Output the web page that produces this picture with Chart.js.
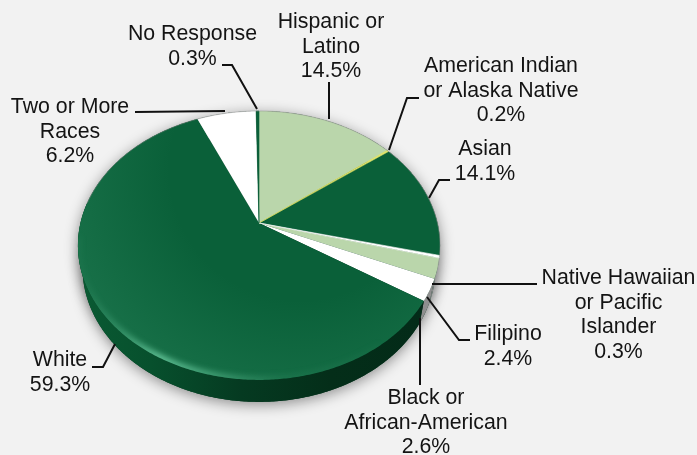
<!DOCTYPE html>
<html>
<head>
<meta charset="utf-8">
<title>Race and ethnicity</title>
<script src="https://cdn.jsdelivr.net/npm/chart.js@4"></script>
<style>
  html, body { margin: 0; background: #f2f2f2; }
  canvas { display: block; }
</style>
</head>
<body>
<canvas id="myChart" width="697" height="455"></canvas>
<script>
const categories = [
  "Hispanic or Latino",
  "American Indian or Alaska Native",
  "Asian",
  "Native Hawaiian or Pacific Islander",
  "Filipino",
  "Black or African-American",
  "White",
  "Two or More Races",
  "No Response",
];
const shares = [14.5, 0.2, 14.1, 0.3, 2.4, 2.6, 59.3, 6.2, 0.3];
const sliceColors = ["#bad6ab", "#e2e56a", "#0a6039", "#ffffff", "#bad6ab", "#ffffff", "#0a6039", "#ffffff", "#0a6039"];
const wallColors = ["#9fb592", "#b5b85a", "#6f7f72", "#a0a0a0", "#9a9a9a", "#8e8e8e", null, "#a0a0a0", "#053a21"];

// wrapped label text, one entry per slice
const labelLines = [
  ["Hispanic or", "Latino"],
  ["American Indian", "or Alaska Native"],
  ["Asian"],
  ["Native Hawaiian", "or Pacific", "Islander"],
  ["Filipino"],
  ["Black or", "African-American"],
  ["White"],
  ["Two or More", "Races"],
  ["No Response"],
];

// x centre and first line y of each label, then the leader polyline
const callouts = [
  { x: 331, y: 22, leader: [[329, 82], [329, 119]] },
  { x: 501, y: 66, leader: [[419, 98], [407, 98], [389, 150]] },
  { x: 485, y: 149, leader: [[450, 180], [439, 180], [429, 198]] },
  { x: 618.5, y: 278, leader: [[537, 284], [432, 284]] },
  { x: 508, y: 334, leader: [[470, 340], [459, 340], [427, 297]] },
  { x: 426, y: 398, leader: [[420, 385], [420, 318]] },
  { x: 60, y: 360, leader: [[92, 367], [103, 367], [115, 344]] },
  { x: 70, y: 107, leader: [[135, 112], [225, 111]] },
  { x: 192.5, y: 34, leader: [[222, 65], [232, 65], [257, 109]] },
];

// perspective of the disc: apex, half sizes, vanishing factor, wall height
const disc = { cx: 259, cy: 223, a: 178.5, b: 130.7, k: 0.167, depth: 22, inset: 0.975 };

function project(angle, drop) {
  const u = Math.cos(angle);
  const v = Math.sin(angle);
  const w = 1 - disc.k * v;
  const squeeze = drop > 0 ? disc.inset : 1;
  return [disc.cx + (disc.a * u * squeeze) / w, disc.cy + (disc.b * v) / w + drop];
}

function rimPoints(start, end, drop) {
  const points = [];
  const steps = Math.max(2, Math.ceil((end - start) / 0.01));
  for (let i = 0; i <= steps; i++) {
    points.push(project(start + ((end - start) * i) / steps, drop));
  }
  return points;
}

function tracePolygon(ctx, points) {
  ctx.beginPath();
  points.forEach((p, i) => (i === 0 ? ctx.moveTo(p[0], p[1]) : ctx.lineTo(p[0], p[1])));
  ctx.closePath();
}

// canvas background
const backdrop = {
  id: "backdrop",
  beforeDraw(chart) {
    chart.ctx.fillStyle = "#f2f2f2";
    chart.ctx.fillRect(0, 0, chart.width, chart.height);
  },
};

// the arcs keep the angles the controller worked out, only the outline is tilted
const tiltedPie = {
  id: "tiltedPie",
  beforeDatasetsDraw(chart) {
    const ctx = chart.ctx;
    const arcs = chart.getDatasetMeta(0).data;
    const full = rimPoints(0, Math.PI * 2, 0);
    const fullLow = rimPoints(0, Math.PI * 2, disc.depth);

    // soft shadow under the whole pie
    ctx.save();
    ctx.shadowColor = "rgba(0,0,0,0.42)";
    ctx.shadowBlur = 14;
    ctx.shadowOffsetY = 3;
    ctx.fillStyle = "#053a21";
    tracePolygon(ctx, fullLow);
    ctx.fill();
    tracePolygon(ctx, full);
    ctx.fill();
    ctx.restore();

    const wallFade = ctx.createLinearGradient(disc.cx - 180, 0, disc.cx + 180, 0);
    wallFade.addColorStop(0, "#0a5a33");
    wallFade.addColorStop(0.2, "#07502d");
    wallFade.addColorStop(0.45, "#053a21");
    wallFade.addColorStop(0.7, "#042e19");
    wallFade.addColorStop(1, "#032a18");

    arcs.forEach((arc, i) => {
      const top = rimPoints(arc.startAngle, arc.endAngle, 0);
      const low = rimPoints(arc.startAngle, arc.endAngle, disc.depth);
      tracePolygon(ctx, top.concat(low.reverse()));
      ctx.fillStyle = wallColors[i] || wallFade;
      ctx.fill();
    });

    arcs.forEach((arc, i) => {
      const top = rimPoints(arc.startAngle, arc.endAngle, 0);
      tracePolygon(ctx, [[disc.cx, disc.cy]].concat(top));
      ctx.fillStyle = sliceColors[i];
      ctx.fill();
    });

    // slivers under half a percent would vanish, so give them a hairline
    arcs.forEach((arc, i) => {
      if (shares[i] >= 0.5) return;
      tracePolygon(ctx, [[disc.cx, disc.cy]].concat(rimPoints(arc.startAngle, arc.endAngle, 0)));
      ctx.strokeStyle = sliceColors[i];
      ctx.lineWidth = 0.6;
      ctx.stroke();
    });

    // lighter sheen and bright edge on the lower left, inside the big slice
    const big = arcs[6];
    ctx.save();
    tracePolygon(ctx, [[disc.cx, disc.cy]].concat(rimPoints(big.startAngle, big.endAngle, 0)));
    ctx.clip();

    const sheen = ctx.createRadialGradient(300, 170, 130, 300, 170, 260);
    sheen.addColorStop(0, "rgba(80,180,135,0)");
    sheen.addColorStop(1, "rgba(80,180,135,0.22)");
    ctx.fillStyle = sheen;
    ctx.fillRect(0, 0, chart.width, chart.height);

    const glow = ctx.createLinearGradient(85, 0, 420, 0);
    glow.addColorStop(0, "rgba(120,220,175,0.05)");
    glow.addColorStop(0.1, "rgba(120,220,175,0.35)");
    glow.addColorStop(0.22, "rgba(120,220,175,0.95)");
    glow.addColorStop(0.38, "rgba(120,220,175,0.55)");
    glow.addColorStop(0.6, "rgba(90,180,140,0.15)");
    glow.addColorStop(1, "rgba(90,180,140,0)");
    ctx.filter = "blur(3px)";
    ctx.strokeStyle = glow;
    ctx.lineWidth = 6;
    ctx.beginPath();
    rimPoints(Math.PI * 0.3, Math.PI * 0.97, 0).forEach((p) => ctx.lineTo(p[0], p[1]));
    ctx.stroke();
    ctx.restore();

    // faint edge along the far rim
    ctx.strokeStyle = "rgba(150,150,150,0.5)";
    ctx.lineWidth = 1;
    ctx.beginPath();
    rimPoints(-Math.PI * 0.95, Math.PI * 0.1, 0).forEach((p) => ctx.lineTo(p[0], p[1]));
    ctx.stroke();

    return false;
  },
  // dataset hooks stop after the cancel above, so labels go on at the end of the draw
  afterDraw(chart) {
    const ctx = chart.ctx;
    ctx.strokeStyle = "#111111";
    ctx.lineWidth = 2;
    ctx.lineJoin = "miter";
    callouts.forEach((c) => {
      ctx.beginPath();
      c.leader.forEach((p, i) => (i === 0 ? ctx.moveTo(p[0], p[1]) : ctx.lineTo(p[0], p[1])));
      ctx.stroke();
    });

    ctx.fillStyle = "#141414";
    ctx.font = '21.3px "Liberation Sans", Arial, sans-serif';
    ctx.textAlign = "center";
    ctx.textBaseline = "middle";
    callouts.forEach((c, i) => {
      const lines = labelLines[i].concat(shares[i].toFixed(1) + "%");
      lines.forEach((line, n) => ctx.fillText(line, c.x, c.y + n * 24.8));
    });
  },
};

new Chart(document.getElementById("myChart").getContext("2d"), {
  type: "pie",
  data: {
    labels: categories,
    datasets: [{ data: shares, backgroundColor: sliceColors, borderWidth: 0 }],
  },
  options: {
    responsive: false,
    animation: false,
    plugins: { legend: { display: false }, tooltip: { enabled: false } },
  },
  plugins: [backdrop, tiltedPie],
});
</script>
</body>
</html>
